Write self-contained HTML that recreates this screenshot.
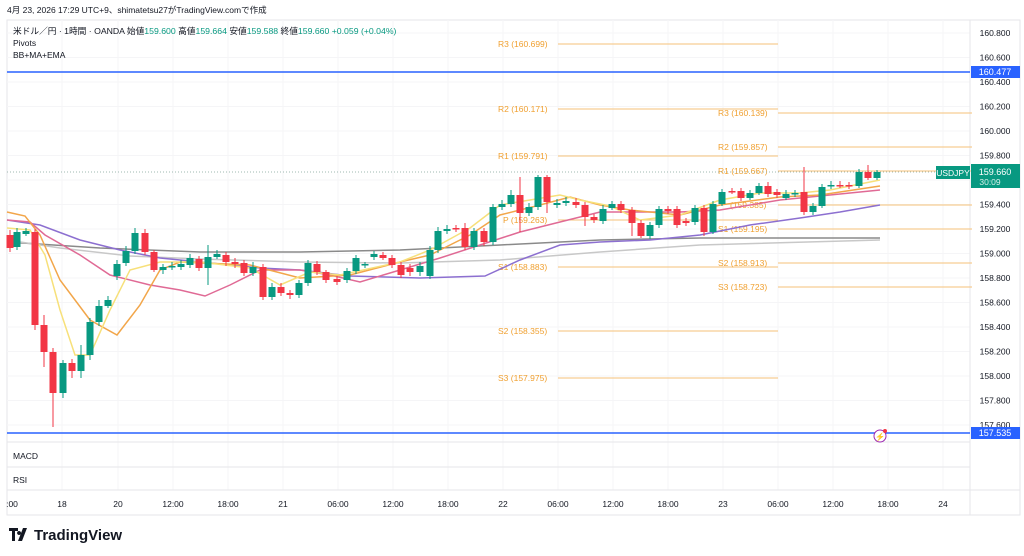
<!DOCTYPE html>
<html><head><meta charset="utf-8"><style>
body{margin:0;background:#fff;width:1024px;height:556px;overflow:hidden;font-family:"Liberation Sans","Noto Sans CJK JP",sans-serif}
svg{position:absolute;left:0;top:0}
</style></head><body>
<svg width="1024" height="556" xmlns="http://www.w3.org/2000/svg" font-family="Liberation Sans, Noto Sans CJK JP, sans-serif">
<rect x="7" y="20" width="1013" height="495" fill="none" stroke="#e6e6ea"/>
<g stroke="#f5f5f7">
<line x1="62" y1="20" x2="62" y2="490"/><line x1="118" y1="20" x2="118" y2="490"/><line x1="173" y1="20" x2="173" y2="490"/><line x1="228" y1="20" x2="228" y2="490"/><line x1="283" y1="20" x2="283" y2="490"/><line x1="338" y1="20" x2="338" y2="490"/><line x1="393" y1="20" x2="393" y2="490"/><line x1="448" y1="20" x2="448" y2="490"/><line x1="503" y1="20" x2="503" y2="490"/><line x1="558" y1="20" x2="558" y2="490"/><line x1="613" y1="20" x2="613" y2="490"/><line x1="668" y1="20" x2="668" y2="490"/><line x1="723" y1="20" x2="723" y2="490"/><line x1="778" y1="20" x2="778" y2="490"/><line x1="833" y1="20" x2="833" y2="490"/><line x1="888" y1="20" x2="888" y2="490"/><line x1="943" y1="20" x2="943" y2="490"/>
</g>
<g stroke="#f5f5f7" id="hg"></g>
<line x1="7" y1="442" x2="970" y2="442" stroke="#e6e6ea"/>
<line x1="7" y1="467" x2="970" y2="467" stroke="#e6e6ea"/>
<line x1="7" y1="490" x2="1020" y2="490" stroke="#e6e6ea"/>
<line x1="970" y1="20" x2="970" y2="515" stroke="#e6e6ea"/>
<g stroke="#f5c27a" stroke-width="1">
<line x1="558" y1="44" x2="778" y2="44"/><line x1="558" y1="109" x2="778" y2="109"/><line x1="558" y1="156" x2="778" y2="156"/><line x1="558" y1="220" x2="778" y2="220"/><line x1="558" y1="267" x2="778" y2="267"/><line x1="558" y1="331" x2="778" y2="331"/><line x1="558" y1="378" x2="778" y2="378"/>
<line x1="778" y1="113" x2="972" y2="113"/><line x1="778" y1="147" x2="972" y2="147"/><line x1="778" y1="171" x2="972" y2="171"/><line x1="778" y1="205" x2="972" y2="205"/><line x1="778" y1="229" x2="972" y2="229"/><line x1="778" y1="263" x2="972" y2="263"/><line x1="778" y1="287" x2="972" y2="287"/>
</g>
<g fill="#f0a030" font-size="8.5">
<text x="498" y="47">R3 (160.699)</text><text x="498" y="112">R2 (160.171)</text><text x="498" y="159">R1 (159.791)</text><text x="503" y="223">P (159.263)</text><text x="498" y="270">S1 (158.883)</text><text x="498" y="334">S2 (158.355)</text><text x="498" y="381">S3 (157.975)</text>
<text x="718" y="116">R3 (160.139)</text><text x="718" y="150">R2 (159.857)</text><text x="718" y="174">R1 (159.667)</text><text x="730" y="208">(159.385)</text><text x="718" y="232">S1 (159.195)</text><text x="718" y="266">S2 (158.913)</text><text x="718" y="290">S3 (158.723)</text>
</g>
<line x1="7" y1="172" x2="970" y2="172" stroke="#9fb8b0" stroke-dasharray="1,2"/>
<g fill="none" stroke-width="1.5">
<polyline stroke="#8a8a8a" points="7,242 100,248 200,252 300,252 400,250 500,245 600,240 700,238 880,238"/>
<polyline stroke="#c8c8c8" points="7,240 60,248 130,256 200,259 300,262 400,263 500,260 600,252 700,245 880,240"/>
<polyline stroke="#8c6fd0" points="7,220 40,225 80,240 120,250 160,258 200,262 260,268 300,270 350,276 420,278 485,276 520,260 560,245 600,242 650,240 700,235 750,225 800,218 840,212 880,205"/>
<polyline stroke="#e06a95" points="7,220 30,222 45,235 80,255 110,275 150,285 180,290 205,296 230,285 260,270 300,270 330,275 360,282 400,270 440,258 480,245 520,232 560,222 600,212 630,212 680,212 720,210 780,200 830,195 880,190"/>
<polyline stroke="#f2a64a" points="7,212 25,216 40,235 60,280 90,320 117,335 140,305 160,270 180,262 250,265 300,278 350,275 400,262 430,255 470,235 500,215 540,205 570,197 600,205 630,210 680,215 720,205 780,197 820,195 880,186"/>
<polyline stroke="#f7e07a" points="7,228 30,230 45,255 60,310 75,355 90,355 110,310 130,270 160,262 200,262 250,268 280,285 310,272 340,275 400,262 430,250 470,228 500,205 530,200 560,195 580,200 610,206 640,220 680,215 720,200 760,193 800,193 830,190 880,180"/>
</g>
<g id="c"></g>
<line x1="7" y1="72" x2="970" y2="72" stroke="#2962ff" stroke-width="1.5"/>
<line x1="7" y1="433" x2="970" y2="433" stroke="#2962ff" stroke-width="1.5"/>
<g id="ax" fill="#131722" font-size="8.5"></g>
<rect x="971" y="66" width="49" height="12" fill="#2962ff"/><text x="995" y="75" fill="#fff" font-size="9" text-anchor="middle">160.477</text>
<rect x="971" y="427" width="49" height="12" fill="#2962ff"/><text x="995" y="436" fill="#fff" font-size="9" text-anchor="middle">157.535</text>
<rect x="936" y="166" width="34" height="13" fill="#089981"/><text x="953" y="176" fill="#fff" font-size="8.5" text-anchor="middle">USDJPY</text>
<rect x="971" y="164" width="49" height="24" fill="#089981"/><text x="995" y="175" fill="#fff" font-size="9" text-anchor="middle">159.660</text><text x="990" y="185" fill="#d6f0ea" font-size="8.5" text-anchor="middle">30:09</text>
<circle cx="880" cy="436" r="6" fill="#fff" stroke="#9c27b0"/><text x="880" y="439.5" font-size="8" fill="#9c27b0" text-anchor="middle">⚡</text><circle cx="885" cy="431" r="2" fill="#f23645"/>
<g fill="#131722" font-size="8.5">
<text x="13" y="459">MACD</text><text x="13" y="483">RSI</text>
</g>
<g fill="#131722" font-size="8.5" text-anchor="middle">
<text x="12" y="507">:00</text><text x="62" y="507">18</text><text x="118" y="507">20</text><text x="173" y="507">12:00</text><text x="228" y="507">18:00</text><text x="283" y="507">21</text><text x="338" y="507">06:00</text><text x="393" y="507">12:00</text><text x="448" y="507">18:00</text><text x="503" y="507">22</text><text x="558" y="507">06:00</text><text x="613" y="507">12:00</text><text x="668" y="507">18:00</text><text x="723" y="507">23</text><text x="778" y="507">06:00</text><text x="833" y="507">12:00</text><text x="888" y="507">18:00</text><text x="943" y="507">24</text>
</g>
<text x="7" y="13" font-size="8.5" fill="#131722">4月 23, 2026 17:29 UTC+9、shimatetsu27がTradingView.comで作成</text>
<text x="13" y="34" font-size="8.7" fill="#131722">米ドル／円 · 1時間 · OANDA 始値<tspan fill="#089981">159.600</tspan> 高値<tspan fill="#089981">159.664</tspan> 安値<tspan fill="#089981">159.588</tspan> 終値<tspan fill="#089981">159.660</tspan> <tspan fill="#089981">+0.059 (+0.04%)</tspan></text>
<text x="13" y="46" font-size="8.5" fill="#131722">Pivots</text>
<text x="13" y="58" font-size="8.5" fill="#131722">BB+MA+EMA</text>
<g transform="translate(9,527)"><path d="M0,1h9v3h-3v10h-3v-10h-3z M10,4a2,2 0 1,0 0.1,0z M14,1h4l-5,13h-4z" fill="#131722"/></g>
<text x="34" y="540" font-size="15" font-weight="bold" fill="#131722">TradingView</text>
</svg>
<script>
var ns="http://www.w3.org/2000/svg";
var ax=document.getElementById('ax'),hg=document.getElementById('hg');
for(var i=0;i<=16;i++){var p=160.8-i*0.2,y=33+i*24.5;
var t=document.createElementNS(ns,'text');t.setAttribute('x',995);t.setAttribute('y',y+3);t.setAttribute('text-anchor','middle');t.textContent=p.toFixed(3);ax.appendChild(t);
var l=document.createElementNS(ns,'line');l.setAttribute('x1',7);l.setAttribute('x2',970);l.setAttribute('y1',y);l.setAttribute('y2',y);hg.appendChild(l);}
var d=[[10,235,248,230,252],[17,247,232,228,250],[26,234,231,228,236],[35,232,325,229,330],[44,325,352,315,367],[53,352,393,348,427],[63,393,363,398,360],[72,363,371,359,378],[81,371,355,378,345],[90,355,322,360,318],[99,322,306,326,300],[108,306,300,308,296],[117,276,264,280,260],[126,263,251,266,246],[135,251,233,254,228],[145,233,252,229,255],[154,252,270,250,272],[163,270,267,274,264],[172,267,266,270,262],[181,267,264,270,260],[190,265,258,268,254],[199,259,268,256,271],[208,268,257,285,245],[217,257,254,259,250],[226,255,262,252,266],[235,262,264,258,268],[244,263,273,260,276],[253,273,267,276,262],[263,267,297,264,300],[272,297,287,300,283],[281,287,293,283,296],[290,293,295,290,299],[299,295,283,298,280],[308,283,263,286,260],[317,264,272,261,275],[326,272,280,270,283],[337,279,282,276,285],[347,280,271,283,268],[356,271,258,274,255],[365,265,264,262,268],[374,257,254,260,251],[383,255,258,252,260],[392,258,265,255,268],[401,265,275,262,278],[410,268,272,264,276],[420,272,266,276,262],[430,276,250,279,246],[438,250,231,253,227],[447,231,229,234,225],[456,228,229,225,232],[465,228,247,223,250],[474,247,231,250,228],[484,231,242,228,246],[493,242,207,245,204],[502,207,204,210,200],[511,204,195,207,190],[520,195,213,177,232],[529,213,207,216,203],[538,207,177,210,175],[547,177,202,175,213],[557,205,203,208,199],[566,203,201,206,197],[576,202,205,198,208],[585,205,217,202,226],[594,217,220,214,223],[603,221,209,224,205],[612,208,204,210,201],[621,204,210,201,213],[632,210,223,207,236],[641,223,236,220,238],[650,236,225,239,222],[659,225,209,228,206],[668,209,211,206,214],[677,209,225,206,228],[686,221,223,218,226],[695,222,208,225,205],[704,208,232,205,236],[713,232,204,234,201],[722,204,192,206,189],[732,191,191,188,194],[741,191,198,188,201],[750,198,193,200,190],[759,193,186,195,183],[768,186,194,182,197],[777,192,195,189,198],[786,198,194,200,190],[795,194,193,197,190],[804,192,212,167,215],[813,212,206,215,203],[822,206,187,208,184],[831,186,185,189,181],[840,185,185,188,181],[849,185,186,182,189],[859,186,172,188,169],[868,172,178,165,180],[877,178,172,180,170]];
var g=document.getElementById('c');
d.forEach(function(c){var up=c[2]<c[1],col=up?'#089981':'#f23645';
var l=document.createElementNS(ns,'line');l.setAttribute('x1',c[0]);l.setAttribute('x2',c[0]);l.setAttribute('y1',Math.min(c[3],c[4]));l.setAttribute('y2',Math.max(c[3],c[4]));l.setAttribute('stroke',col);g.appendChild(l);
var r=document.createElementNS(ns,'rect');var t=Math.min(c[1],c[2]),h=Math.max(1.5,Math.abs(c[1]-c[2]));
r.setAttribute('x',c[0]-3.5);r.setAttribute('width',7);r.setAttribute('y',t);r.setAttribute('height',h);r.setAttribute('fill',col);g.appendChild(r);});
</script>
</body></html>
